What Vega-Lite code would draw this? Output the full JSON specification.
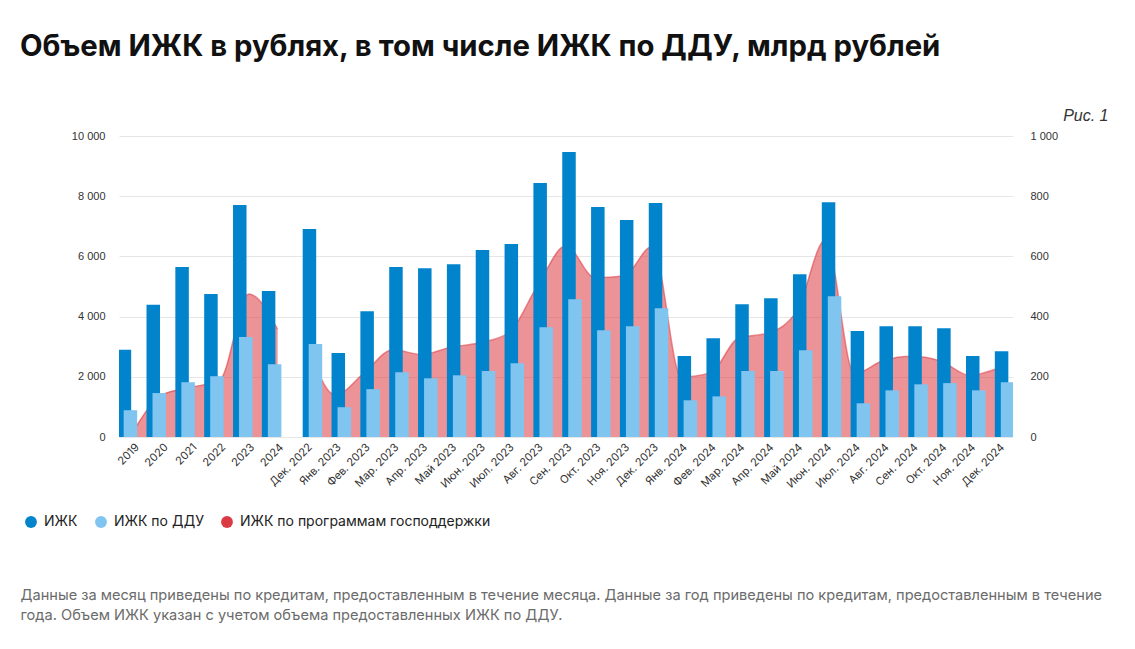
{
  "$schema": "https://vega.github.io/schema/vega-lite/v6.json",
  "padding": {"left": 20, "top": 32, "right": 20, "bottom": 20},
  "width": 894,
  "height": 301,
  "title": {
    "text": "Объем ИЖК в рублях, в том числе ИЖК по ДДУ, млрд рублей",
    "anchor": "start",
    "frame": "group",
    "dx": -99,
    "font": "Inter",
    "fontSize": 29.3,
    "fontWeight": 700,
    "color": "#111111",
    "baseline": "alphabetic",
    "offset": 22
  },
  "data": {
    "values": [
      {"label": "2019", "period": "год", "izk": 2900, "ddu": 890, "gos": 20},
      {"label": "2020", "period": "год", "izk": 4390, "ddu": 1460, "gos": 140},
      {"label": "2021", "period": "год", "izk": 5650, "ddu": 1820, "gos": 165},
      {"label": "2022", "period": "год", "izk": 4750, "ddu": 2020, "gos": 190},
      {"label": "2023", "period": "год", "izk": 7710, "ddu": 3320, "gos": 475},
      {"label": "2024", "period": "год", "izk": 4850, "ddu": 2420, "gos": 358},
      {"label": "Дек. 2022", "period": "месяц", "izk": 6910, "ddu": 3090, "gos": 320},
      {"label": "Янв. 2023", "period": "месяц", "izk": 2790, "ddu": 990, "gos": 140},
      {"label": "Фев. 2023", "period": "месяц", "izk": 4180, "ddu": 1590, "gos": 213},
      {"label": "Мар. 2023", "period": "месяц", "izk": 5650, "ddu": 2150, "gos": 290},
      {"label": "Апр. 2023", "period": "месяц", "izk": 5610, "ddu": 1950, "gos": 274},
      {"label": "Май 2023", "period": "месяц", "izk": 5740, "ddu": 2050, "gos": 298},
      {"label": "Июн. 2023", "period": "месяц", "izk": 6210, "ddu": 2190, "gos": 313},
      {"label": "Июл. 2023", "period": "месяц", "izk": 6410, "ddu": 2450, "gos": 345},
      {"label": "Авг. 2023", "period": "месяц", "izk": 8440, "ddu": 3650, "gos": 500},
      {"label": "Сен. 2023", "period": "месяц", "izk": 9470, "ddu": 4580, "gos": 635},
      {"label": "Окт. 2023", "period": "месяц", "izk": 7640, "ddu": 3550, "gos": 530},
      {"label": "Ноя. 2023", "period": "месяц", "izk": 7210, "ddu": 3680, "gos": 535},
      {"label": "Дек. 2023", "period": "месяц", "izk": 7770, "ddu": 4280, "gos": 634},
      {"label": "Янв. 2024", "period": "месяц", "izk": 2690, "ddu": 1220, "gos": 200},
      {"label": "Фев. 2024", "period": "месяц", "izk": 3280, "ddu": 1350, "gos": 213},
      {"label": "Мар. 2024", "period": "месяц", "izk": 4410, "ddu": 2190, "gos": 330},
      {"label": "Апр. 2024", "period": "месяц", "izk": 4610, "ddu": 2190, "gos": 345},
      {"label": "Май 2024", "period": "месяц", "izk": 5410, "ddu": 2880, "gos": 418},
      {"label": "Июн. 2024", "period": "месяц", "izk": 7800, "ddu": 4680, "gos": 655},
      {"label": "Июл. 2024", "period": "месяц", "izk": 3520, "ddu": 1120, "gos": 210},
      {"label": "Авг. 2024", "period": "месяц", "izk": 3680, "ddu": 1550, "gos": 254},
      {"label": "Сен. 2024", "period": "месяц", "izk": 3680, "ddu": 1750, "gos": 268},
      {"label": "Окт. 2024", "period": "месяц", "izk": 3610, "ddu": 1790, "gos": 252},
      {"label": "Ноя. 2024", "period": "месяц", "izk": 2690, "ddu": 1550, "gos": 205},
      {"label": "Дек. 2024", "period": "месяц", "izk": 2850, "ddu": 1820, "gos": 229}
    ]
  },
  "encoding": {
    "x": {
      "field": "label",
      "type": "nominal",
      "sort": ["2019","2020","2021","2022","2023","2024","Дек. 2022","Янв. 2023","Фев. 2023","Мар. 2023","Апр. 2023","Май 2023","Июн. 2023","Июл. 2023","Авг. 2023","Сен. 2023","Окт. 2023","Ноя. 2023","Дек. 2023","Янв. 2024","Фев. 2024","Мар. 2024","Апр. 2024","Май 2024","Июн. 2024","Июл. 2024","Авг. 2024","Сен. 2024","Окт. 2024","Ноя. 2024","Дек. 2024"],
      "scale": {"paddingInner": 0, "paddingOuter": 0},
      "axis": {
        "labelAngle": -45,
        "labelFont": "Inter",
        "labelFontSize": 11,
        "labelColor": "#333333",
        "labelPadding": 4,
        "grid": false,
        "ticks": false,
        "domain": false,
        "title": [
          "Данные за месяц приведены по кредитам, предоставленным в течение месяца. Данные за год приведены по кредитам, предоставленным в течение",
          "года. Объем ИЖК указан с учетом объема предоставленных ИЖК по ДДУ."
        ],
        "titleFont": "Inter",
        "titleFontSize": 14.6,
        "titleFontWeight": "normal",
        "titleColor": "#6b6b6b",
        "titleAlign": "left",
        "titleBaseline": "alphabetic",
        "titleX": -99,
        "titleY": 162,
        "titleLineHeight": 20
      }
    }
  },
  "layer": [
    {
      "mark": {"type": "area", "interpolate": "monotone", "fillOpacity": 0.55, "line": {"strokeWidth": 1.5, "strokeOpacity": 0.55}},
      "encoding": {
        "y": {
          "field": "gos",
          "type": "quantitative",
          "stack": null,
          "scale": {"domain": [0, 1000]},
          "axis": {
            "orient": "right",
            "values": [0, 200, 400, 600, 800, 1000],
            "labelExpr": "replace(format(datum.value, ','), regexp(',', 'g'), ' ')",
            "grid": false,
            "ticks": false,
            "domain": false,
            "labelPadding": 17,
            "labelFont": "Liberation Sans",
            "labelFontSize": 11,
            "labelColor": "#333333",
            "title": "Рис. 1",
            "titleAngle": 0,
            "titleAlign": "right",
            "titleBaseline": "alphabetic",
            "titleX": 95,
            "titleY": -16,
            "titleFont": "Liberation Sans",
            "titleFontSize": 16,
            "titleFontStyle": "italic",
            "titleFontWeight": "normal",
            "titleColor": "#333333"
          }
        },
        "detail": {"field": "period"},
        "color": {
          "datum": "ИЖК по программам господдержки",
          "type": "nominal",
          "scale": {
            "domain": ["ИЖК", "ИЖК по ДДУ", "ИЖК по программам господдержки"],
            "range": ["#0284cc", "#80c4f0", "#dc3a42"]
          },
          "legend": {
            "orient": "none",
            "legendX": -95,
            "legendY": 379,
            "direction": "horizontal",
            "title": null,
            "symbolType": "circle",
            "symbolSize": 140,
            "symbolOpacity": 1,
            "symbolStrokeWidth": 0,
            "labelFont": "Inter",
            "labelFontSize": 14,
            "labelColor": "#222222",
            "labelOffset": 6,
            "labelLimit": 0,
            "columnPadding": 16
          }
        }
      }
    },
    {
      "encoding": {
        "y": {
          "type": "quantitative",
          "scale": {"domain": [0, 10000]},
          "axis": {
            "orient": "left",
            "values": [0, 2000, 4000, 6000, 8000, 10000],
            "labelExpr": "replace(format(datum.value, ','), regexp(',', 'g'), ' ')",
            "grid": true,
            "gridColor": "#e6e6e6",
            "ticks": false,
            "domain": false,
            "labelPadding": 14,
            "labelFont": "Liberation Sans",
            "labelFontSize": 11,
            "labelColor": "#333333",
            "title": null
          }
        }
      },
      "layer": [
        {
          "transform": [{"filter": "datum.period === 'год'"}],
          "mark": {"type": "bar", "width": 13.5, "xOffset": -9, "clip": true},
          "encoding": {"y": {"field": "izk", "type": "quantitative"}, "color": {"datum": "ИЖК", "type": "nominal"}}
        },
        {
          "transform": [{"filter": "datum.period === 'год'"}],
          "mark": {"type": "bar", "width": 13.5, "xOffset": -3, "clip": true},
          "encoding": {"y": {"field": "ddu", "type": "quantitative"}, "color": {"datum": "ИЖК по ДДУ", "type": "nominal"}}
        },
        {
          "transform": [{"filter": "datum.period === 'месяц'"}],
          "mark": {"type": "bar", "width": 13.5, "xOffset": 3, "clip": true},
          "encoding": {"y": {"field": "izk", "type": "quantitative"}, "color": {"datum": "ИЖК", "type": "nominal"}}
        },
        {
          "transform": [{"filter": "datum.period === 'месяц'"}],
          "mark": {"type": "bar", "width": 13.5, "xOffset": 9, "clip": true},
          "encoding": {"y": {"field": "ddu", "type": "quantitative"}, "color": {"datum": "ИЖК по ДДУ", "type": "nominal"}}
        }
      ]
    }
  ],
  "resolve": {"scale": {"y": "independent"}},
  "config": {
    "view": {"stroke": null},
    "axis": {"gridColor": "#e6e6e6"}
  }
}
